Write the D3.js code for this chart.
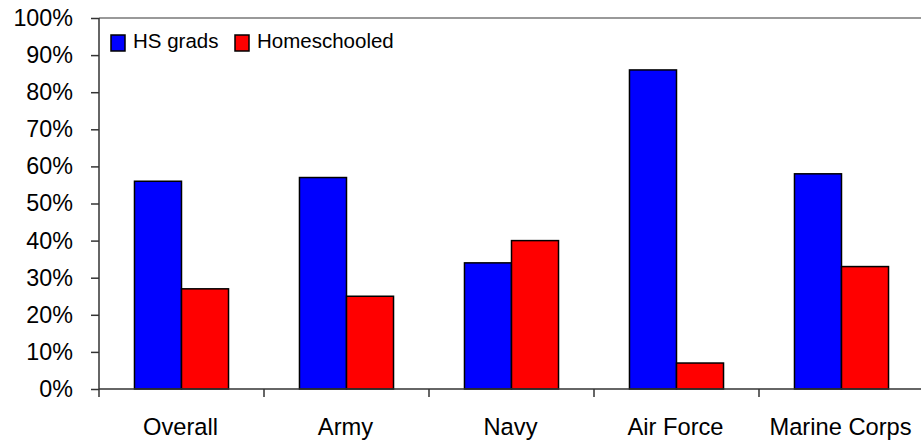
<!DOCTYPE html>
<html>
<head>
<meta charset="utf-8">
<script src="https://cdn.jsdelivr.net/npm/d3@7"></script>
<style>
  html, body { margin: 0; padding: 0; background: #fff; }
  svg { display: block; font-family: "Liberation Sans", Arial, sans-serif; }
</style>
</head>
<body>
<svg id="chart" width="921" height="440"></svg>
<script>
const categories = ["Overall", "Army", "Navy", "Air Force", "Marine Corps"];
const seriesNames = ["HS grads", "Homeschooled"];
const hsGrads = [56, 57, 34, 86, 58];
const homeschooled = [27, 25, 40, 7, 33];
const yTicks = [0, 10, 20, 30, 40, 50, 60, 70, 80, 90, 100];
const colors = ["#0000FF", "#FF0000"];

(function () {
const seriesValues = [hsGrads, homeschooled];
const svg = d3.select("#chart");

const mLeft = 99, mRight = 924, mTop = 18, mBottom = 389;

const x0 = d3.scaleBand().domain(categories).range([mLeft, mRight]).padding(0);
const bw = x0.bandwidth();
const groupW = bw * 0.57;
const x1 = d3.scaleBand().domain(seriesNames)
  .range([(bw - groupW) / 2, (bw + groupW) / 2]).padding(0);
const y = d3.scaleLinear().domain([0, 100]).range([mBottom, mTop]);

// top border line
svg.append("line")
  .attr("x1", mLeft).attr("x2", 921)
  .attr("y1", y(100)).attr("y2", y(100))
  .attr("stroke", "#999").attr("stroke-width", 2);

// bars
const groups = svg.append("g").selectAll("g")
  .data(categories)
  .join("g")
  .attr("transform", d => `translate(${x0(d)},0)`);

groups.selectAll("rect")
  .data((c, i) => seriesNames.map((s, j) => ({ s, j, v: seriesValues[j][i] })))
  .join("rect")
  .attr("x", d => x1(d.s))
  .attr("width", x1.bandwidth())
  .attr("y", d => y(d.v))
  .attr("height", d => y(0) - y(d.v))
  .attr("fill", d => colors[d.j])
  .attr("stroke", "#000")
  .attr("stroke-width", 1.5);

// y axis
const yAxis = d3.axisLeft(y)
  .tickValues(yTicks)
  .tickFormat(d => d + "%")
  .tickSize(8)
  .tickPadding(18);
const gy = svg.append("g")
  .attr("transform", `translate(${mLeft},0)`)
  .call(yAxis);
gy.select(".domain").attr("stroke", "#333").attr("stroke-width", 1.5)
  .attr("d", `M0,${y(100)}V${y(0)}`);
gy.selectAll(".tick line").attr("stroke", "#333").attr("stroke-width", 1.5);
gy.selectAll(".tick text")
  .attr("font-size", 23.3)
  .attr("font-family", "Liberation Sans, Arial, sans-serif")
  .attr("fill", "#000");

// x axis
const gx = svg.append("g");
gx.append("line")
  .attr("x1", mLeft).attr("x2", 921)
  .attr("y1", mBottom).attr("y2", mBottom)
  .attr("stroke", "#333").attr("stroke-width", 1.5);
gx.selectAll(".xtick")
  .data(categories)
  .join("line")
  .attr("class", "xtick")
  .attr("x1", d => x0(d)).attr("x2", d => x0(d))
  .attr("y1", mBottom).attr("y2", mBottom + 8)
  .attr("stroke", "#333").attr("stroke-width", 1.5);
gx.selectAll(".xlabel")
  .data(categories)
  .join("text")
  .attr("class", "xlabel")
  .attr("x", d => x0(d) + bw / 2 - 1)
  .attr("y", mBottom + 46)
  .attr("text-anchor", "middle")
  .attr("font-size", 23.7)
  .attr("fill", "#000")
  .text(d => d);

// legend
const legendItems = [
  { name: seriesNames[0], color: colors[0], x: 111 },
  { name: seriesNames[1], color: colors[1], x: 235 }
];
const lg = svg.append("g").selectAll("g").data(legendItems).join("g");
lg.append("rect")
  .attr("x", d => d.x).attr("y", 35)
  .attr("width", 14).attr("height", 16)
  .attr("fill", d => d.color)
  .attr("stroke", "#000").attr("stroke-width", 1.5);
lg.append("text")
  .attr("x", d => d.x + 22)
  .attr("y", 47.5)
  .attr("font-size", 20.5)
  .attr("fill", "#000")
  .text(d => d.name);
})();
</script>
</body>
</html>
